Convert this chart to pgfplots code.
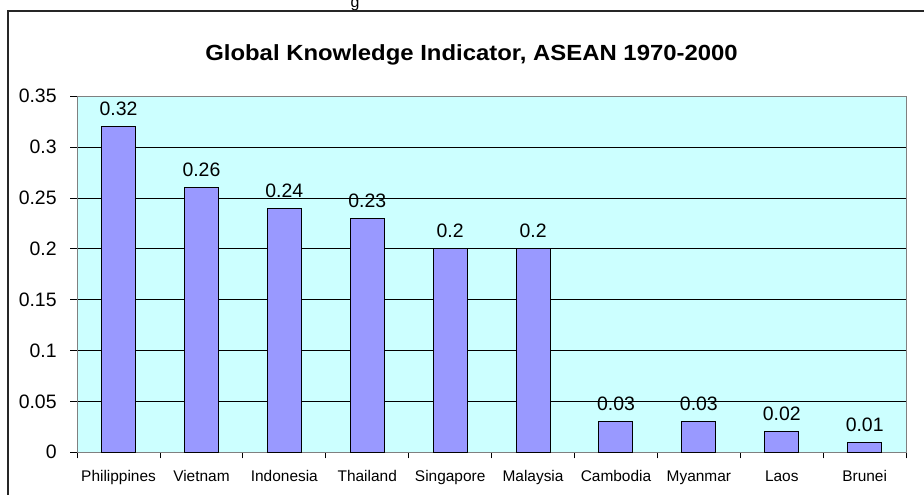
\documentclass[border=0pt]{standalone}
\usepackage{fontspec}
\setmainfont{Liberation Sans}
\newfontfamily\titlefont[FakeStretch=1.09]{Liberation Sans}
\usepackage{pgfplots}
\pgfplotsset{compat=1.18}
\definecolor{bg}{HTML}{CCFFFF}
\definecolor{barc}{HTML}{9999FF}
\begin{document}
\begin{tikzpicture}[x=1bp,y=1bp]
\path[use as bounding box] (0,0) rectangle (924,495);
\clip (0,0) rectangle (924,495);
\node[font=\fontsize{16}{18}\selectfont, anchor=base, inner sep=0pt] at (355,487.5) {g};
\draw[line width=1.4bp, black!85] (8,-20) rectangle (940,484);
\node[font=\titlefont\bfseries\fontsize{22}{24}\selectfont, anchor=base, inner sep=0pt] at (471.5,434.5) {Global Knowledge Indicator, ASEAN 1970-2000};
\begin{axis}[
  at={(93,42)}, anchor=south west,
  width=829bp, height=356bp, scale only axis,
  xmin=-0.5, xmax=9.5, ymin=0, ymax=0.35,
  axis background/.style={fill=bg},
  axis line style={draw=gray, line width=1bp},
  ymajorgrids, grid style={black, line width=0.9bp},
  ytick={0,0.05,0.1,0.15,0.2,0.25,0.3,0.35},
  yticklabels={0,0.05,0.1,0.15,0.2,0.25,0.3,0.35},
  xtick={0,...,9},
  xticklabels={Philippines,Vietnam,Indonesia,Thailand,Singapore,Malaysia,Cambodia,Myanmar,Laos,Brunei},
  minor xtick={-0.5,0.5,...,9.5},
  xtick style={draw=none},
  minor x tick style={draw=black, line width=0.9bp},
  ytick style={draw=black, line width=0.9bp},
  tick align=outside,
  major tick length=7bp, minor tick length=6bp,
  xtick pos=bottom, ytick pos=left,
  yticklabel style={font=\fontsize{19.5}{21}\selectfont, anchor=east, xshift=-10bp},
  xticklabel style={font=\fontsize{15.5}{17}\selectfont, anchor=base, yshift=-22bp},
  ybar, bar width=34bp,
  nodes near coords, point meta=explicit symbolic,
  every node near coord/.append style={font=\fontsize{19.5}{21}\selectfont, anchor=base, yshift=11bp, black},
]
\addplot[fill=barc, draw=black, line width=1bp] coordinates {
  (0,0.32) [0.32]
  (1,0.26) [0.26]
  (2,0.24) [0.24]
  (3,0.23) [0.23]
  (4,0.20) [0.2]
  (5,0.20) [0.2]
  (6,0.03) [0.03]
  (7,0.03) [0.03]
  (8,0.02) [0.02]
  (9,0.01) [0.01]
};
\end{axis}
\end{tikzpicture}
\end{document}
